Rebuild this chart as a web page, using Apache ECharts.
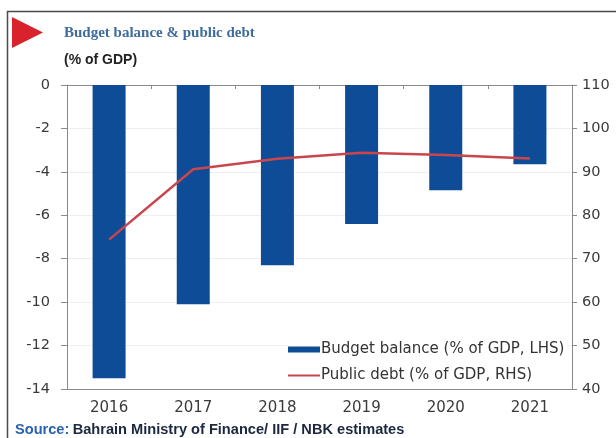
<!DOCTYPE html>
<html>
<head>
<meta charset="utf-8">
<script src="https://cdn.jsdelivr.net/npm/echarts@6/dist/echarts.min.js"></script>
<style>
html,body{margin:0;padding:0;background:#fff;}
#chart{width:616px;height:438px;}
</style>
</head>
<body>
<div id="chart"></div>
<script>
// ---- data ----
const years = ['2016', '2017', '2018', '2019', '2020', '2021'];
const budgetBalance = [-13.5, -10.1, -8.3, -6.4, -4.85, -3.65];
const publicDebt = [74.4, 90.6, 93.0, 94.4, 93.9, 93.1];
const leftTicks = { min: -14, max: 0, interval: 2 };
const rightTicks = { min: 40, max: 110, interval: 10 };
const barName = 'Budget balance (% of GDP, LHS)';
const lineName = 'Public debt (% of GDP, RHS)';
const titleText = 'Budget balance & public debt';
const subtitleText = '(% of GDP)';
const sourceLabel = 'Source:';
const sourceText = 'Bahrain Ministry of Finance/ IIF / NBK estimates';

const chart = echarts.init(document.getElementById('chart'), null, { renderer: 'canvas' });
const axisGray = '#8a8a8a';
const labelColor = '#3a3a3a';
const font = 'Arial, "Liberation Sans", sans-serif';
const wide = '"DejaVu Sans", Verdana, sans-serif';

chart.setOption({
  animation: false,
  backgroundColor: '#fff',
  grid: { left: 67, right: 44, top: 85, bottom: 49, containLabel: false },
  graphic: [
    { type: 'rect', shape: { x: 7.5, y: 11.5, width: 640, height: 460 }, style: { fill: 'none', stroke: '#4a4a4a', lineWidth: 1.5 }, silent: true },
    { type: 'polygon', shape: { points: [[12, 17], [43, 32.5], [12, 48]] }, style: { fill: '#d8232e' } },
    { type: 'text', left: 64, top: 26, style: { text: titleText, font: 'bold 15px "Liberation Serif", "DejaVu Serif", serif', fill: '#3f6c9c' } },
    { type: 'text', left: 64, top: 53, style: { text: subtitleText, font: 'bold 14px ' + font, fill: '#222' } },
    { type: 'text', left: 15, top: 422, style: {
        text: '{a|' + sourceLabel + '} {b|' + sourceText + '}',
        rich: {
          a: { font: 'bold 14.6px ' + font, fill: '#2a62b0' },
          b: { font: 'bold 14.6px ' + font, fill: '#1c2740' }
        }
      } }
  ],
  legend: [
    { data: [barName], orient: 'vertical', left: 288, top: 340, itemWidth: 32, itemHeight: 6, itemGap: 0, icon: 'rect',
      textStyle: { fontSize: 15, color: '#333', fontFamily: wide, padding: [0, 0, 0, -4] }, backgroundColor: '#fff', padding: [2, 2, 2, 0] },
    { data: [lineName], orient: 'vertical', left: 288, top: 366, itemWidth: 32, itemHeight: 2, itemGap: 0, icon: 'rect',
      textStyle: { fontSize: 15, color: '#333', fontFamily: wide, padding: [0, 0, 0, -4] }, backgroundColor: '#fff', padding: [2, 2, 2, 0] }
  ],
  xAxis: [
    { type: 'category', data: years, position: 'top', boundaryGap: true,
      axisLine: { show: true, onZero: false, lineStyle: { color: axisGray, width: 1 } },
      axisTick: { show: true, inside: true, length: 4, lineStyle: { color: axisGray } },
      axisLabel: { show: false }, splitLine: { show: false } },
    { type: 'category', data: years, position: 'bottom', boundaryGap: true,
      axisLine: { show: true, onZero: false, lineStyle: { color: axisGray, width: 1 } },
      axisTick: { show: false },
      axisLabel: { show: true, color: labelColor, fontSize: 15, fontFamily: wide, margin: 12 },
      splitLine: { show: false } }
  ],
  yAxis: [
    { type: 'value', position: 'left', min: leftTicks.min, max: leftTicks.max, interval: leftTicks.interval,
      axisLine: { show: true, lineStyle: { color: axisGray } },
      axisTick: { show: true, length: 6, lineStyle: { color: axisGray } },
      axisLabel: { color: labelColor, fontSize: 14.5, fontFamily: wide, margin: 17 },
      splitLine: { show: true, lineStyle: { color: '#efefef', width: 1 } } },
    { type: 'value', position: 'right', min: rightTicks.min, max: rightTicks.max, interval: rightTicks.interval,
      axisLine: { show: true, lineStyle: { color: axisGray } },
      axisTick: { show: true, length: 5, lineStyle: { color: axisGray } },
      axisLabel: { color: labelColor, fontSize: 14.5, fontFamily: wide, margin: 10 },
      splitLine: { show: false } }
  ],
  series: [
    { name: barName, type: 'bar', xAxisIndex: 0, yAxisIndex: 0, data: budgetBalance, barWidth: 33,
      itemStyle: { color: '#0f4c97' } },
    { name: lineName, type: 'line', xAxisIndex: 0, yAxisIndex: 1, data: publicDebt, symbol: 'none',
      lineStyle: { color: '#c9474c', width: 2.5 }, itemStyle: { color: '#c9474c' } }
  ]
});
</script>
</body>
</html>
